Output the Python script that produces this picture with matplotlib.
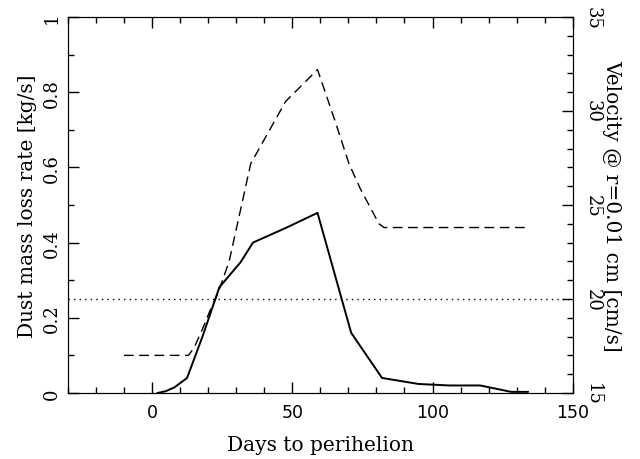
import numpy as np
import matplotlib
matplotlib.use('Agg')
import matplotlib.pyplot as plt
from matplotlib.ticker import MultipleLocator

# dust mass loss rate (solid, left axis)
days_dust = [2, 5, 8, 12.5, 18, 24, 31.6, 36, 48, 59, 71, 82, 95, 106, 117, 128, 134]
dust_rate = [0, 0.005, 0.015, 0.04, 0.15, 0.281, 0.348, 0.40, 0.44, 0.479, 0.16, 0.04,
             0.024, 0.02, 0.02, 0.003, 0.003]

# velocity (dashed, right axis)
days_vel = [-10, 13, 15, 18, 21, 23.5, 27.5, 35.2, 47.6, 59, 65.4, 70.2, 74.3, 80.9, 82.7, 133]
velocity = [17, 17, 17.4, 18.4, 19.5, 20.3, 22.0, 27.2, 30.5, 32.2, 29.4, 27.2, 25.85,
            24.0, 23.8, 23.8]

v_ref = 20.0

fig = plt.figure(figsize=(6.4, 4.6), dpi=100)
ax = fig.add_axes([0.106, 0.1435, 0.789, 0.8175])
ax2 = ax.twinx()

ax.plot(days_dust, dust_rate, color='black', lw=1.4)
ax2.plot(days_vel, velocity, color='black', lw=1.0, dashes=(7, 4))
ax2.axhline(v_ref, color='black', lw=1.0, ls=(0, (1, 3)))

ax.set_xlim(-30, 150)
ax.set_ylim(0, 1)
ax2.set_ylim(15, 35)

ax.xaxis.set_major_locator(MultipleLocator(50))
ax.xaxis.set_minor_locator(MultipleLocator(10))
ax.yaxis.set_major_locator(MultipleLocator(0.2))
ax.yaxis.set_minor_locator(MultipleLocator(0.1))
ax2.yaxis.set_major_locator(MultipleLocator(5))
ax2.yaxis.set_minor_locator(MultipleLocator(1))

ax.tick_params(which='both', direction='in', top=True, right=False)
ax.tick_params(which='major', length=8, width=1)
ax.tick_params(which='minor', length=4, width=1)
ax2.tick_params(which='both', direction='in')
ax2.tick_params(which='major', length=8, width=1)
ax2.tick_params(which='minor', length=4, width=1)

ax.set_yticks([0, 0.2, 0.4, 0.6, 0.8, 1.0])
ax.set_yticklabels(['0', '0.2', '0.4', '0.6', '0.8', '1'], rotation=90, va='center',
                   family='DejaVu Serif', fontsize=13)
ax2.set_yticks([15, 20, 25, 30, 35])
ax2.set_yticklabels(['15', '20', '25', '30', '35'], rotation=-90, va='center',
                    family='DejaVu Serif', fontsize=13)
ax.tick_params(axis='y', pad=5)
ax2.tick_params(axis='y', pad=8)
for t in ax.get_xticklabels():
    t.set_fontsize(12.5)
ax.tick_params(axis='x', pad=7)

ax.set_xlabel('Days to perihelion', family='DejaVu Serif', fontsize=14.5, labelpad=10)
ax.set_ylabel('Dust mass loss rate [kg/s]', family='DejaVu Serif', fontsize=14.5,
              va='center')
ax.yaxis.set_label_coords(-0.079, 0.5)
ax2.set_ylabel('Velocity @ r=0.01 cm [cm/s]', family='DejaVu Serif', fontsize=14.5,
               rotation=-90, va='center')
ax2.yaxis.set_label_coords(1.077, 0.5)

plt.savefig('out.png', dpi=100)
